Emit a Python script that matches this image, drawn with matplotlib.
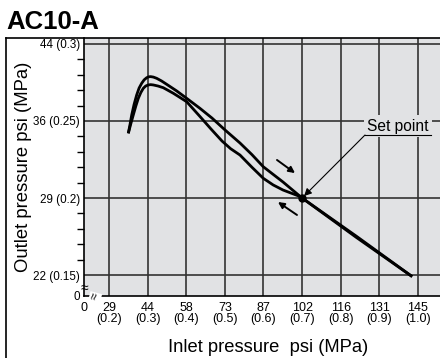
"""
AC10-A regulator characteristic: outlet vs inlet pressure.
"""
import matplotlib.pyplot as plt
from matplotlib.lines import Line2D

plt.rcParams['font.family'] = ['Liberation Sans', 'DejaVu Sans']

# Datos (MPa)
inlet_up = [0.250, 0.2545, 0.2588, 0.2650, 0.2717, 0.2780, 0.2847, 0.2910, 0.2976, 0.3030,
            0.3080, 0.3150, 0.3235, 0.3360, 0.3494, 0.3753, 0.4012, 0.4356, 0.4667,
            0.5003, 0.5392, 0.5700, 0.5995, 0.6505, 0.70, 0.84, 0.985]
outlet_up = [0.2420, 0.2478, 0.2539, 0.2608, 0.2669, 0.2714, 0.2745, 0.2767, 0.2781, 0.2787,
             0.2788, 0.2785, 0.2777, 0.2760, 0.2738, 0.2695, 0.2647, 0.2582, 0.2519,
             0.2442, 0.2357, 0.2282, 0.2203, 0.2104, 0.2000, 0.1753, 0.149]
inlet_down = [0.250, 0.2565, 0.2629, 0.2695, 0.2759, 0.2825, 0.2888, 0.2950, 0.3017, 0.3080,
              0.3147, 0.3270, 0.3406, 0.3665, 0.4012, 0.4356, 0.4641, 0.4926, 0.5150,
              0.5392, 0.5700, 0.5995, 0.6250, 0.6505, 0.6945, 0.70, 0.84, 0.985]
outlet_down = [0.2420, 0.2482, 0.2539, 0.2597, 0.2647, 0.2685, 0.2712, 0.2727, 0.2734, 0.2736,
               0.2734, 0.2727, 0.2716, 0.2680, 0.2625, 0.2529, 0.2448, 0.2370, 0.2320,
               0.2279, 0.2200, 0.2128, 0.2085, 0.2052, 0.2010, 0.2000, 0.1745, 0.149]
set_point = (0.70, 0.20)

x_ticks = [0.2, 0.3, 0.4, 0.5, 0.6, 0.7, 0.8, 0.9, 1.0]
x_psi = ['29', '44', '58', '73', '87', '102', '116', '131', '145']
y_ticks = [0.15, 0.20, 0.25, 0.30]
y_labels = ['22 (0.15)', '29 (0.2)', '36 (0.25)', '44 (0.3)']

# flechas de sentido (inicio, fin)
arrow_up = ((0.635, 0.2247), (0.6816, 0.2162))
arrow_down = ((0.6867, 0.1890), (0.6375, 0.1974))

bg = '#e1e2e4'
grid_c = '#333333'

fig = plt.figure(figsize=(4.4, 3.58), dpi=100)
ax = fig.add_axes([84 / 440, 1 - 296 / 358, 1 - 84 / 440, (296 - 37.5) / 358])
ax.set_facecolor(bg)

x0, x1 = 0.1353, 1.057
y0, y1 = 0.1364, 0.3042
ax.set_xlim(x0, x1)
ax.set_ylim(y0, y1)

# Rejilla
for xv in x_ticks:
    ax.axvline(xv, color=grid_c, lw=1.2, zorder=1)
for yv in y_ticks:
    ax.axhline(yv, color=grid_c, lw=1.2, zorder=1)

# Curvas
ax.plot(inlet_up, outlet_up, color='black', lw=2.0, solid_capstyle='butt',
        solid_joinstyle='round', zorder=3)
ax.plot(inlet_down, outlet_down, color='black', lw=2.0, solid_capstyle='butt',
        solid_joinstyle='round', zorder=3)
ax.plot(*set_point, 'o', color='black', ms=5, zorder=4)

for (xa, ya), (xb, yb) in (arrow_up, arrow_down):
    ax.annotate('', xy=(xb, yb), xytext=(xa, ya),
                arrowprops=dict(arrowstyle='-|>', color='black', lw=1.4,
                                mutation_scale=9, shrinkA=0, shrinkB=0))

# Etiqueta Set point
ax.text(0.868, 0.2418, 'Set point', fontsize=11.2, ha='left', va='bottom', zorder=5,
        bbox=dict(facecolor=bg, edgecolor='none', pad=2.5))
ax.plot([0.8628, 1.034], [0.2409, 0.2409], color='black', lw=0.8, zorder=5)
ax.annotate('', xy=set_point, xytext=(0.8628, 0.2409),
            arrowprops=dict(arrowstyle='-|>', color='black', lw=0.8,
                            mutation_scale=11, shrinkA=0, shrinkB=2), zorder=5)

# Ejes
for s in ['top', 'right']:
    ax.spines[s].set_visible(False)
for s in ['left', 'bottom']:
    ax.spines[s].set_color('black')
    ax.spines[s].set_linewidth(1.2)

ax.set_xticks([x0] + x_ticks)
ax.set_xticklabels(['0'] + [f'{p}\n({m:.1f})' for p, m in zip(x_psi, x_ticks)],
                   fontsize=9, linespacing=0.95)
ax.tick_params(axis='x', length=0, pad=4)

ax.set_yticks([y0] + y_ticks)
ax.set_yticklabels(['0'] + y_labels, fontsize=8.4)
ax.set_yticks([v / 100 for v in range(16, 30) if v not in (20, 25)], minor=True)
ax.tick_params(axis='y', which='major', length=0, pad=3)
ax.tick_params(axis='y', which='minor', length=5, width=1.0, direction='out')
ax.tick_params(axis='x', which='minor', length=0)

# Marcas de corte
ax.text(0, 0.1418, '≈', transform=ax.get_yaxis_transform(), fontsize=10,
        ha='center', va='center', clip_on=False, zorder=6)
ax.text(0.165, 0, '≈', transform=ax.get_xaxis_transform(), fontsize=9, rotation=75,
        ha='center', va='center', clip_on=False, zorder=6,
        bbox=dict(facecolor='white', edgecolor='none', pad=0))

# Marco exterior
fig.add_artist(Line2D([6 / 440, 1], [1 - 37.5 / 358] * 2, color='black', lw=1.2))
fig.add_artist(Line2D([6 / 440] * 2, [0, 1 - 37.5 / 358], color='black', lw=1.2))

# Textos
fig.text(6 / 440, 1 - 22 / 358, 'AC10-A', fontsize=18.5, fontweight='bold',
         ha='left', va='center')
fig.text(268 / 440, 1 - 347 / 358, 'Inlet pressure  psi (MPa)', fontsize=13.2,
         ha='center', va='center')
fig.text(24 / 440, 1 - 167 / 358, 'Outlet pressure psi (MPa)', fontsize=13.3,
         rotation=90, ha='center', va='center')

fig.savefig('out.png', dpi=100)
plt.close(fig)
